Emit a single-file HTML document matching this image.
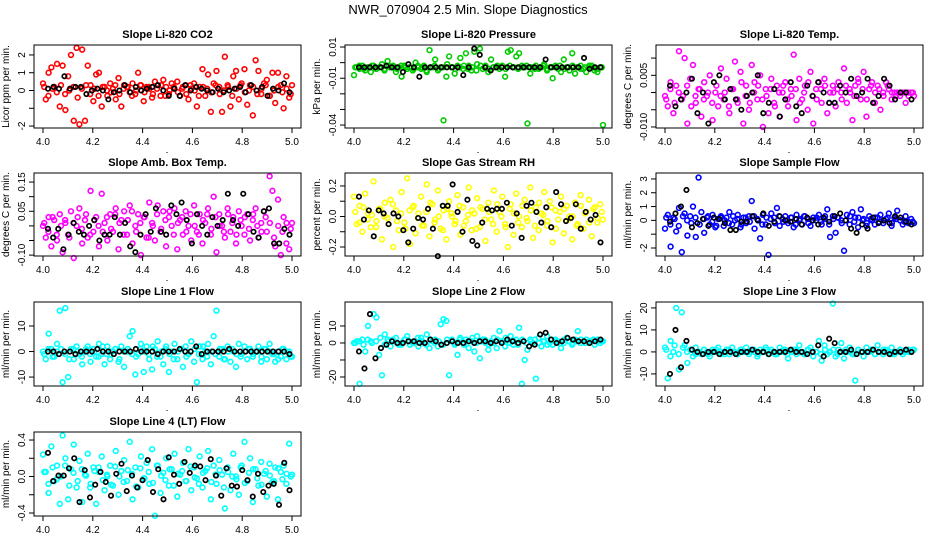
<!DOCTYPE html>
<html><head><meta charset="utf-8"><style>
html,body{margin:0;padding:0;background:#fff}
svg{display:block;font-family:"Liberation Sans",sans-serif}
</style></head><body>
<svg id="chart" width="936" height="540" viewBox="0 0 936 540" xmlns="http://www.w3.org/2000/svg">
<text x="468" y="14" text-anchor="middle" font-size="13">NWR_070904  2.5 Min. Slope Diagnostics</text>
</svg>
<script>
const titles=["Slope Li-820 CO2","Slope Li-820 Pressure","Slope Li-820 Temp.","Slope Amb. Box Temp.","Slope Gas Stream RH","Slope Sample Flow","Slope Line 1 Flow","Slope Line 2 Flow","Slope Line 3 Flow","Slope Line 4 (LT) Flow"];
const ylabels=["Licor ppm per min.","kPa per min.","degrees C per min.","degrees C per min.","percent per min.","ml/min per min.","ml/min per min.","ml/min per min.","ml/min per min.","ml/min per min."];
const colors=["#ff0000","#00cc00","#ff00ff","#ff00ff","#ffff00","#0000ff","#00ffff","#00ffff","#00ffff","#00ffff"];
const ylims=[[-2.11,2.56],[-0.0419,0.0113],[-0.0103,0.0138],[-0.103,0.181],[-0.259,0.285],[-2.58,3.43],[-13.5,19.4],[-25.3,24.1],[-15.5,22.7],[-0.433,0.488]];
const yticks=[[-2,-1,0,1,2],[-0.04,-0.03,-0.02,-0.01,0,0.01],[-0.01,-0.005,0,0.005,0.01],[-0.1,-0.05,0,0.05,0.1,0.15],[-0.2,-0.1,0,0.1,0.2],[-2,-1,0,1,2,3],[-10,0,10],[-20,-10,0,10],[-10,0,10,20],[-0.4,-0.2,0,0.2,0.4]];
const ytickLabels=[["-2","","0","1","2"],["-0.04","","","-0.01","","0.01"],["-0.010","","","0.005",""],["-0.10","","","0.05","","0.15"],["-0.2","","0.0","","0.2"],["-2","","0","1","2","3"],["-10","0","10"],["-20","","0","10"],["-10","0","10","20"],["-0.4","","0.0","","0.4"]];
const xticks=[4.0,4.2,4.4,4.6,4.8,5.0];
const xtickLabels=["4.0","4.2","4.4","4.6","4.8","5.0"];
const c1=[0.4,-0.5,1.0,1.3,0.2,1.5,-0.9,1.4,-1.1,0.8,2.0,-1.7,2.4,-1.9,2.3,-1.7,1.4,0.3,-0.6,0.9,1.0,-0.9,0.2,-0.3,0.4,0.1,-0.5,0.7,-0.9,0.3,0.2,-0.1,0.4,-0.2,1.0,0.3,-0.6,0.2,0.1,-0.4,0.5,0.3,-0.3,0.6,0.2,-0.2,0.4,0.1,0.5,-0.3,0.2,0.3,-0.5,0.1,0.4,-0.9,0.2,1.2,-0.3,0.9,-1.2,0.4,1.1,0.2,-1.2,1.9,0.3,-0.9,0.8,1.1,-0.5,0.4,1.2,-0.8,0.3,-1.4,1.7,1.1,-0.2,0.4,0.6,-0.3,1.0,-0.7,1.0,0.3,-1.0,0.8,-0.4,0.3];
const b1=[0.2,-0.3,0.1,-0.1,0.3,-0.2,0.0,0.2,-0.4,0.1,0.3,-0.2,0.1,-0.3,0.2,0.0,-0.1,0.3,-0.2,0.1,0.2,-0.3,0.0,0.3,-0.1,0.2,-0.2,0.1,0.3,-0.3,0.0,0.2,-0.1,0.1,-0.2,0.3,0.0,-0.3,0.2,0.1,-0.1,0.3,-0.2,0.0,0.2,-0.3,0.1,0.3,-0.1,0.0,0.2,-0.2,0.1,0.3,-0.3,0.0,0.2,-0.1,0.1,-0.2];
const k1=[0.1,0.2,0.1,0.8,0.1,0.2,0.2,-0.2,0.0,0.1,0.0,-0.5,-0.1,0.0,0.3,-0.1,0.2,0.0,0.1,0.2,0.3,0.0,-0.3,0.1,-0.3,0.3,0.0,0.2,0.1,0.0,-0.1,0.1,-0.1,0.0,0.1,0.2,-0.1,0.3,0.0,0.2,-0.3,0.1,0.0,0.4,-0.1];
const c2=[-0.008,-0.003,-0.004,-0.002,-0.005,-0.003,-0.006,-0.002,-0.004,-0.003,-0.001,-0.004,0.001,-0.003,-0.002,-0.006,-0.003,-0.009,-0.002,-0.004,-0.003,-0.005,0.000,-0.003,-0.004,-0.002,-0.006,0.008,-0.003,0.002,-0.005,-0.003,-0.037,-0.009,0.004,-0.003,-0.007,-0.002,0.003,-0.004,0.006,-0.002,-0.005,0.007,-0.001,0.009,-0.004,-0.002,-0.006,0.002,-0.003,-0.003,-0.004,-0.002,-0.009,0.007,0.008,-0.003,0.004,0.006,-0.002,-0.003,-0.039,-0.007,-0.003,-0.002,-0.004,-0.003,-0.001,-0.005,-0.003,-0.010,-0.002,-0.004,-0.006,0.002,-0.003,-0.005,0.006,-0.007,-0.003,-0.002,-0.004,-0.006,-0.003,-0.002,-0.005,-0.006,-0.003,-0.040];
const b2=[-0.003,-0.002,-0.004,-0.003,-0.002,-0.004,-0.003,-0.005,-0.002,-0.003,-0.004,-0.002,-0.003,-0.003,-0.004,-0.002,-0.003,-0.005,-0.003,-0.002,-0.004,-0.003,-0.001,-0.003,-0.004,-0.003,-0.002,-0.004,-0.003,-0.005,-0.002,-0.003,-0.004,-0.003,-0.002,-0.003,-0.004,-0.002,-0.003,-0.004,-0.003,-0.002,-0.003,-0.004,-0.003,-0.002,-0.004,-0.003,-0.003,-0.002,-0.004,-0.003,-0.002,-0.003,-0.004,-0.003,-0.002,-0.003,-0.004,-0.003];
const k2=[-0.003,-0.003,-0.003,-0.003,-0.003,-0.002,-0.003,-0.003,-0.006,-0.001,-0.003,-0.009,-0.003,-0.003,-0.003,-0.003,-0.003,-0.003,-0.003,-0.008,-0.003,0.009,0.005,-0.003,-0.005,-0.003,-0.003,-0.003,-0.003,-0.003,-0.003,-0.003,-0.003,-0.003,0.002,-0.003,-0.003,-0.003,-0.003,-0.003,-0.003,0.003,-0.004,-0.003,-0.003];
const c3=[-0.001,-0.004,0.003,-0.006,0.002,0.012,-0.002,0.010,-0.009,0.004,0.008,-0.003,0.001,-0.007,0.003,-0.001,0.005,-0.008,0.000,-0.004,0.007,-0.002,0.004,-0.006,0.001,0.009,-0.003,0.006,-0.009,0.002,-0.005,0.008,0.003,-0.002,0.005,-0.010,0.001,-0.006,0.004,-0.003,0.002,-0.007,0.000,0.003,-0.004,0.001,0.011,-0.008,0.004,-0.002,0.002,-0.005,0.006,-0.009,0.001,0.003,-0.003,0.004,-0.006,0.000,0.002,-0.004,0.003,0.000,0.007,-0.003,0.001,-0.008,0.002,0.004,-0.002,0.006,-0.007,0.001,0.003,-0.003,0.002,-0.005,0.000,0.003,0.001,-0.002,0.000,0.000,-0.001,0.000,-0.003,0.000,0.000,-0.001];
const b3=[-0.002,0.001,-0.003,0.000,-0.001,0.002,-0.004,-0.001,0.001,-0.002,0.000,-0.003,0.002,-0.001,0.000,-0.004,0.001,-0.002,0.003,-0.001,-0.003,0.000,0.002,-0.002,-0.001,0.001,-0.004,0.000,0.002,-0.002,-0.001,0.001,-0.003,0.000,0.003,-0.001,-0.002,0.001,0.002,-0.003,0.000,0.001,-0.002,0.002,0.000,-0.001,0.003,0.001,-0.002,0.002,0.000,0.001,-0.001,0.002,0.000,-0.001,0.000,0.000,-0.001,0.000];
const k3=[0.002,-0.004,-0.002,0.000,0.004,-0.006,0.000,-0.009,0.003,0.005,-0.002,0.001,-0.002,-0.005,-0.001,0.000,0.005,-0.006,-0.003,0.001,-0.007,-0.002,0.003,-0.004,-0.006,0.002,-0.001,0.003,0.000,-0.003,-0.003,0.002,0.000,0.004,-0.001,0.000,0.004,-0.003,-0.001,0.004,0.002,-0.002,0.000,0.000,-0.002];
const c4=[0.00,-0.04,0.03,-0.07,0.02,-0.05,0.04,-0.09,0.01,-0.03,0.05,-0.11,0.00,0.06,-0.06,0.02,-0.04,0.12,-0.02,0.03,-0.07,0.11,0.01,-0.05,0.04,-0.02,0.06,-0.08,0.02,0.05,-0.03,0.07,-0.06,0.00,0.04,-0.10,0.03,-0.04,0.08,0.01,-0.05,0.07,-0.02,0.05,-0.07,0.03,0.00,0.06,-0.08,0.02,-0.03,0.05,0.00,-0.05,0.07,-0.02,0.04,-0.06,0.01,0.06,-0.03,0.10,-0.09,0.04,0.00,-0.04,0.06,-0.02,0.03,-0.06,0.05,0.00,-0.03,0.04,-0.05,0.02,0.06,-0.04,0.01,0.05,-0.02,0.17,0.12,-0.07,0.09,-0.10,0.03,-0.06,-0.08,0.01];
const b4=[0.01,-0.02,0.03,-0.03,0.00,0.02,-0.04,0.01,0.03,-0.01,0.04,-0.03,0.02,0.00,-0.02,0.03,-0.01,0.04,0.01,-0.03,0.02,0.05,-0.02,0.01,0.03,-0.04,0.00,0.04,-0.01,0.02,0.05,-0.03,0.01,0.03,-0.02,0.04,0.00,-0.03,0.02,0.04,-0.01,0.03,0.00,-0.02,0.04,0.01,-0.03,0.02,0.03,-0.01,0.04,0.00,-0.02,0.03,0.01,-0.04,0.00,-0.02,0.01,-0.01];
const k4=[-0.01,-0.04,-0.01,-0.08,-0.03,0.01,-0.02,-0.03,0.00,0.02,-0.05,-0.03,-0.03,0.03,-0.03,0.01,-0.07,-0.09,-0.03,0.04,-0.02,0.06,-0.02,-0.03,0.07,0.04,0.08,0.02,-0.06,0.04,0.00,-0.03,0.03,0.00,0.02,0.11,0.02,0.00,0.11,0.04,-0.02,-0.04,0.05,0.06,-0.06,-0.06,-0.01,-0.03];
const c5=[0.13,-0.05,0.07,-0.10,0.15,0.02,-0.07,0.23,-0.03,0.05,-0.15,0.09,-0.01,0.11,-0.20,0.04,-0.09,0.16,-0.04,0.25,-0.18,0.06,-0.11,0.02,0.13,-0.06,0.21,-0.13,0.08,-0.02,0.17,-0.08,0.04,-0.15,0.10,0.00,-0.05,0.14,-0.12,0.06,-0.03,0.19,-0.09,0.02,0.12,-0.07,0.05,-0.16,0.09,-0.02,0.17,-0.10,0.03,0.13,-0.05,-0.20,0.08,-0.12,0.15,0.00,-0.07,0.11,-0.03,0.19,-0.14,0.06,-0.09,0.02,0.16,-0.06,0.10,-0.17,0.04,-0.02,0.13,-0.11,0.07,0.00,-0.15,0.09,-0.05,0.14,-0.08,0.03,0.11,-0.13,0.06,-0.04,0.08,-0.02];
const b5=[0.03,-0.04,0.06,-0.02,0.01,-0.07,0.05,0.00,-0.05,0.08,-0.03,0.02,-0.08,0.04,0.07,-0.01,-0.06,0.03,0.09,-0.04,0.00,-0.09,0.05,0.02,-0.03,0.07,-0.06,0.01,0.04,-0.08,0.06,-0.02,0.03,-0.05,0.08,0.00,-0.07,0.05,0.02,-0.04,0.07,-0.01,0.04,-0.06,0.09,0.01,-0.03,0.06,-0.08,0.03,0.05,-0.02,0.00,-0.06,0.07,0.02,-0.04,0.05,-0.01,0.03];
const k5=[0.13,-0.02,0.04,-0.13,0.04,0.02,-0.05,0.02,0.00,-0.09,-0.17,-0.08,-0.01,-0.02,0.05,-0.08,-0.26,0.07,0.07,0.21,0.03,-0.10,0.11,-0.16,-0.19,-0.04,0.05,0.04,0.05,0.05,0.09,-0.06,0.02,-0.14,0.07,0.09,0.03,-0.04,0.06,-0.07,0.16,0.08,-0.03,-0.01,0.08,-0.08,0.03,-0.02,0.01,-0.17];
const c6=[-0.6,0.4,-1.9,0.2,-0.8,0.9,-2.3,0.5,-1.1,0.3,1.0,-1.2,3.1,0.6,-0.9,0.2,-0.3,0.4,-0.5,0.1,0.3,-0.4,0.2,0.6,-0.3,0.0,0.4,-0.5,0.2,-0.2,0.3,1.4,-0.6,0.1,-1.3,0.4,-0.3,-2.5,0.5,0.2,0.9,-0.4,0.1,0.3,-0.2,0.2,-0.5,0.4,0.0,-0.3,0.3,0.1,-0.4,0.2,0.0,0.4,-0.3,0.1,0.8,-1.2,0.3,-0.9,0.2,0.0,-2.2,0.4,-0.3,0.6,0.2,-0.5,0.8,0.1,-0.4,0.3,0.0,-0.3,0.2,0.4,-0.2,0.1,0.5,-0.4,0.2,0.7,0.0,-0.3,0.3,-0.1,0.1,-0.2];
const b6=[0.2,-0.3,0.1,-0.4,0.3,0.0,-0.2,0.2,-0.3,0.1,0.3,-0.1,-0.4,0.2,0.0,-0.2,0.3,0.1,-0.3,0.2,-0.1,0.3,0.0,-0.3,0.2,0.1,-0.2,0.3,-0.1,0.0,0.2,-0.3,0.1,0.3,-0.2,0.0,0.2,-0.1,0.3,-0.3,0.1,0.2,-0.2,0.0,0.3,-0.1,0.2,0.0,-0.2,0.1,0.2,-0.1,0.0,0.2,-0.2,0.1,0.0,-0.1,-0.2,-0.1];
const k6=[-0.1,0.5,1.0,2.2,-0.5,-0.2,0.1,-0.4,0.2,0.1,-0.2,-0.7,-0.7,-0.1,-0.1,0.3,0.0,0.5,-0.4,-0.1,0.3,0.0,-0.1,0.1,-0.3,0.2,0.0,-0.3,0.2,-0.1,0.3,0.5,0.0,-0.6,-0.9,-0.3,-0.6,0.2,-0.2,0.0,-0.2,0.3,0.2,-0.1,-0.3];
const c7=[0,-3,7,1,-2,3,16,-12,17,-10,1,-3,2,-1,-5,0,2,-4,1,-2,3,-1,-5,2,-3,0,1,-4,2,-6,0,6,8,-9,-1,3,-8,2,-3,-7,1,4,-2,-5,2,-8,0,3,-3,1,-6,2,-1,4,-4,-12,2,-3,0,3,-5,6,16,-2,1,-3,2,-4,0,-6,3,-1,2,-3,1,-2,0,2,-4,1,-3,3,-1,-4,0,-2,1,-3,0,-2];
const b7=[-1,1,-2,0,1,-1,-3,1,0,-2,1,-1,0,-2,2,-1,0,1,-3,0,1,-1,-2,1,0,-1,2,-2,0,1,-1,-3,0,1,-2,0,1,-1,2,-2,0,-1,1,-3,0,1,-1,-2,0,1,-1,0,-2,1,0,-1,-3,1,0,-2];
const k7=[0,0,-1,0,0,-1,0,0,0,1,0,0,-1,0,0,0,1,0,0,0,-1,0,0,0,1,0,0,2,-1,0,0,0,0,1,0,0,0,0,0,0,0,0,0,0,-1];
const c8=[0,1,-24,2,-5,10,1,17,15,-7,-19,5,2,-2,1,3,-1,0,2,4,-1,0,1,-2,3,0,5,-3,1,2,-2,11,14,13,-19,2,-1,-7,3,0,2,-3,1,-5,4,-9,2,0,-4,1,3,-3,7,1,-2,0,4,-1,2,9,-24,-10,-4,2,0,-21,3,-2,1,4,0,-1,2,1,-3,0,3,1,-1,2,7,0,1,2,0,1,-1,2,0,1];
const b8=[0,1,-1,2,0,1,3,-1,1,2,0,-1,2,1,0,3,1,-1,2,0,1,-1,2,1,0,2,-1,1,3,0,1,2,-1,0,2,1,3,0,1,-1,2,0,1,2,0,1,-1,2,1,0,2,1,0,1,2,0,1,2,1,1];
const k8=[-5,-15,17,-9,-3,-1,1,0,0,1,1,0,0,2,1,-1,0,1,0,0,1,0,1,1,0,1,0,2,1,0,1,-2,-1,5,6,2,0,1,3,2,1,1,0,1,2];
const c9=[2,-12,5,0,20,-8,18,3,-5,1,-2,2,0,-1,1,0,-2,1,0,2,-1,0,1,-1,2,0,-1,1,0,2,-1,1,0,-2,1,0,2,-1,1,0,-1,2,0,1,-3,0,1,-1,3,0,-1,1,2,-2,0,5,-4,3,-1,0,22,-2,1,4,-3,0,2,-1,-13,1,0,-2,2,0,1,-1,3,0,-1,1,0,2,-1,0,1,-1,0,1,0,1];
const b9=[1,-2,3,-1,2,0,1,-1,0,1,-1,0,1,0,-1,1,0,-1,1,0,0,1,-1,0,1,0,-1,0,1,-1,0,1,0,-1,1,0,0,-1,1,0,1,-1,0,1,0,-1,1,0,0,1,-1,0,1,0,-1,0,1,0,0,1];
const k9=[-10,10,-7,5,1,0,-1,0,0,-1,0,0,-1,0,0,1,0,0,-1,0,0,0,1,0,0,-1,0,3,-2,6,4,0,0,1,-1,0,0,1,0,0,-1,0,0,1,0];
const c10=[0.24,0.05,-0.18,0.33,-0.05,0.12,-0.30,0.45,0.20,-0.25,0.08,0.35,-0.12,0.17,-0.28,0.02,0.25,-0.08,0.10,-0.30,0.05,0.22,-0.15,0.00,0.12,-0.10,0.28,-0.20,0.06,0.18,-0.05,0.38,-0.25,0.10,-0.12,0.22,-0.02,0.15,-0.08,0.30,-0.43,0.12,-0.18,0.04,0.20,-0.10,0.08,0.25,-0.22,0.02,0.15,-0.05,0.30,-0.15,0.10,-0.02,0.22,-0.12,0.06,0.28,-0.25,0.12,-0.08,0.18,0.02,-0.35,0.10,-0.15,0.25,0.00,-0.20,0.12,0.38,-0.05,0.20,-0.28,0.08,-0.10,0.16,0.03,-0.22,0.14,-0.06,0.10,-0.25,0.05,0.12,-0.08,0.36,0.02];
const b10=[0.05,-0.08,0.10,-0.03,0.00,0.12,-0.10,0.04,-0.05,0.08,0.01,-0.12,0.06,0.10,-0.04,0.02,-0.09,0.11,0.00,-0.06,0.07,0.03,-0.11,0.09,-0.02,0.05,-0.07,0.12,0.01,-0.04,0.08,-0.10,0.03,0.06,-0.05,0.11,-0.01,-0.08,0.04,0.09,-0.06,0.02,0.07,-0.12,0.05,0.00,-0.03,0.10,-0.07,0.04,0.08,-0.02,-0.09,0.06,0.01,-0.05,0.09,-0.03,0.03,0.00];
const k10=[0.26,-0.05,0.01,0.01,0.09,0.20,-0.28,0.07,-0.23,-0.09,0.05,-0.06,-0.21,0.03,0.14,-0.16,0.01,-0.12,-0.04,0.18,-0.17,0.08,-0.25,0.21,0.02,-0.08,0.16,0.04,0.12,0.11,-0.04,0.19,0.01,-0.21,0.09,-0.10,-0.11,0.07,-0.04,-0.22,0.03,-0.17,-0.10,-0.08,-0.31,0.15,-0.15];
const colored=[c1,c2,c3,c4,c5,c6,c7,c8,c9,c10];
const band=[b1,b2,b3,b4,b5,b6,b7,b8,b9,b10];
const black=[k1,k2,k3,k4,k5,k6,k7,k8,k9,k10];

const NS="http://www.w3.org/2000/svg";
const svg=document.getElementById('chart');
function mk(tag,attrs,parent){const e=document.createElementNS(NS,tag);for(const k in attrs)e.setAttribute(k,attrs[k]);(parent||svg).appendChild(e);return e;}
const colLeft=[34,345,656], rowTop=[45,173,302,432], rowBot=[128,256,386,516], W=267;

for(let p=0;p<10;p++){
  const L=colLeft[p%3], T=rowTop[Math.floor(p/3)], B=rowBot[Math.floor(p/3)];
  const g=mk('g',{});
  
  
  const xs=v=>L+9+(v-4)*(W-18);
  const [y0,y1]=ylims[p];
  const ys=v=>B-(v-y0)/(y1-y0)*(B-T);
  const t=mk('text',{x:L+W/2,y:T-7,'text-anchor':'middle','font-size':11,'font-weight':'bold'},g);
  t.textContent=titles[p];
  
  
  const cg=mk('g',{fill:'none',stroke:colors[p],'stroke-width':1.6},g);
  
  
  const c=colored[p];
  c.forEach((v,i)=>{const pt=mk('circle',{cx:xs(4+i/(c.length-1)),cy:ys(v),r:2.4},cg);
    
    });
  const b=band[p];
  b.forEach((v,i)=>{const pt=mk('circle',{cx:xs(4.005+0.99*i/(b.length-1)),cy:ys(v),r:2.4},cg);
    
    });
  const kg=mk('g',{fill:'none',stroke:'#000','stroke-width':1.7},g);
  
  
  const k=black[p];
  k.forEach((v,i)=>{const pt=mk('circle',{cx:xs(4.02+0.97*i/(k.length-1)),cy:ys(v),r:2.2},kg);
    
    });
  const box=mk('rect',{x:L,y:T,width:W,height:B-T,fill:'none',stroke:'#000','stroke-width':1},g);
  
  
  xticks.forEach((v,i)=>{const x=xs(v);
    mk('line',{x1:x,x2:x,y1:B,y2:B+5,stroke:'#000'},g);
    const tl=mk('text',{x:x,y:B+17,'text-anchor':'middle','font-size':10},g);
    tl.textContent=xtickLabels[i];
    
    });
  mk('rect',{x:L+W/2-1,y:B+24,width:1,height:1,fill:'#000'},g);
  yticks[p].forEach((v,i)=>{const y=ys(v);
    mk('line',{x1:L-5,x2:L,y1:y,y2:y,stroke:'#000'},g);
    if(ytickLabels[p][i]){const tl=mk('text',{x:L-9,y:y,'text-anchor':'middle','font-size':10,transform:`rotate(-90 ${L-9} ${y})`},g);
      tl.textContent=ytickLabels[p][i];
      
      }});
  const yl=mk('text',{x:L-25,y:(T+B)/2,'text-anchor':'middle','font-size':10,transform:`rotate(-90 ${L-25} ${(T+B)/2})`},g);
  yl.textContent=ylabels[p];
  
  
}
</script>
</body></html>
